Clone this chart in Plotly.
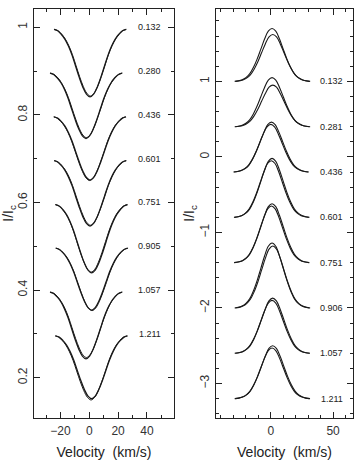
import plotly.graph_objects as go

# ---------------- data ----------------
# Left panel: absorption profiles (velocity grid and normalized line shape)
abs_velocity = [-25, -22.5, -20, -17.5, -15, -12.5, -10, -7.5, -5, -2.5, 0,
                2.5, 5, 7.5, 10, 12.5, 15, 17.5, 20, 22.5, 25]
abs_shape = [0.03, 0.05, 0.10, 0.17, 0.27, 0.40, 0.56, 0.72, 0.86, 0.96, 1.00,
             0.96, 0.86, 0.72, 0.56, 0.40, 0.27, 0.17, 0.10, 0.05, 0.03]
left_phases = ["0.132", "0.280", "0.436", "0.601", "0.751", "0.905", "1.057", "1.211"]
left_continuum = [1.0, 0.9, 0.8, 0.7, 0.6, 0.5, 0.4, 0.3]
left_depth_a = [0.159, 0.154, 0.149, 0.154, 0.161, 0.146, 0.157, 0.148]
left_depth_b = [0.157, 0.152, 0.150, 0.152, 0.159, 0.147, 0.154, 0.151]
left_center_a = [0.5, -2.3, 0.5, 0.5, 1.6, 1.6, -2.3, 1.6]
left_center_b = [0.8, -2.0, 0.2, 0.8, 1.3, 1.9, -2.0, 1.2]

# Right panel: emission profiles
em_velocity = [-30, -27, -24, -21, -18, -15, -12, -9, -6, -3, 0,
               3, 6, 9, 12, 15, 18, 21, 24, 27, 30]
em_shape = [0.00, 0.01, 0.03, 0.07, 0.14, 0.26, 0.42, 0.61, 0.80, 0.95, 1.00,
            0.95, 0.80, 0.61, 0.42, 0.26, 0.14, 0.07, 0.03, 0.01, 0.00]
right_phases = ["0.132", "0.281", "0.436", "0.601", "0.751", "0.906", "1.057", "1.211"]
right_continuum = [1.0, 0.4, -0.2, -0.8, -1.4, -2.0, -2.6, -3.2]
right_height_a = [0.70, 0.65, 0.66, 0.78, 0.78, 0.86, 0.73, 0.70]
right_height_b = [0.62, 0.55, 0.63, 0.75, 0.75, 0.82, 0.70, 0.67]
right_center_a = [1.0, 1.0, 0.5, 1.0, 1.0, 1.0, 1.5, 1.5]
right_center_b = [1.6, 1.6, 0.0, 0.4, 0.5, 1.6, 1.0, 1.0]

# ---------------- figure ----------------
fig = go.Figure()
LINE = "#1a1a1a"
FONT = "Liberation Sans, Arial, sans-serif"

for i in range(len(left_phases)):
    for depth, cen, w in ((left_depth_a[i], left_center_a[i], 1.3),
                          (left_depth_b[i], left_center_b[i], 1.0)):
        fig.add_trace(go.Scatter(
            x=[v + cen for v in abs_velocity],
            y=[left_continuum[i] - depth * s for s in abs_shape],
            mode="lines", line=dict(color=LINE, width=w, shape="spline"),
            xaxis="x", yaxis="y", hoverinfo="skip"))
    fig.add_annotation(x=42, y=left_continuum[i], xref="x", yref="y",
                       text=left_phases[i], showarrow=False,
                       font=dict(size=9, color="#222", family=FONT),
                       xanchor="center", yanchor="middle")

for i in range(len(right_phases)):
    for h, cen, w in ((right_height_a[i], right_center_a[i], 1.1),
                      (right_height_b[i], right_center_b[i], 1.1)):
        fig.add_trace(go.Scatter(
            x=[v + cen for v in em_velocity],
            y=[right_continuum[i] + h * s for s in em_shape],
            mode="lines", line=dict(color=LINE, width=w, shape="spline"),
            xaxis="x2", yaxis="y2", hoverinfo="skip"))
    fig.add_annotation(x=49, y=right_continuum[i], xref="x2", yref="y2",
                       text=right_phases[i], showarrow=False,
                       font=dict(size=9, color="#222", family=FONT),
                       xanchor="center", yanchor="middle")

axis_common = dict(showline=True, linecolor="#222", linewidth=1, mirror="allticks",
                   ticks="inside", ticklen=6, tickcolor="#222", tickwidth=1,
                   showgrid=False, zeroline=False,
                   tickfont=dict(size=12, color="#333", family=FONT))

ydom = [1 - 417.5 / 464, 1 - 9.3 / 464]
title_font = dict(size=14, color="#222", family=FONT)

fig.update_layout(
    width=354, height=464,
    margin=dict(l=0, r=0, t=0, b=0),
    paper_bgcolor="white", plot_bgcolor="white",
    showlegend=False,
    font=dict(family=FONT, color="#222"),
    xaxis=dict(domain=[34 / 354, 174 / 354], range=[-38.4, 58.8],
               tickvals=[-20, 0, 20, 40],
               ticktext=["\u221220", "0", "20", "40"],
               minor=dict(dtick=10, tick0=0, ticks="inside", ticklen=3, tickcolor="#222"),
               title=dict(text="Velocity  (km/s)", font=title_font, standoff=10),
               ticklabelstandoff=2,
               anchor="y", **axis_common),
    yaxis=dict(domain=ydom, range=[0.109, 1.041],
               tickvals=[0.2, 0.4, 0.6, 0.8, 1.0], ticktext=["0.2", "0.4", "0.6", "0.8", "1"],
               minor=dict(dtick=0.1, tick0=0, ticks="inside", ticklen=3, tickcolor="#222"),
               tickangle=-90, ticklabelstandoff=1,
               title=dict(text="I/I<sub>c</sub>", font=title_font, standoff=0),
               anchor="x", **axis_common),
    xaxis2=dict(domain=[216 / 354, 353 / 354], range=[-44, 66],
                tickvals=[0, 50], ticktext=["0", "50"],
                minor=dict(dtick=10, tick0=0, ticks="inside", ticklen=3, tickcolor="#222"),
                title=dict(text="Velocity  (km/s)", font=title_font, standoff=10),
                ticklabelstandoff=2,
                anchor="y2", **axis_common),
    yaxis2=dict(domain=ydom, range=[-3.45, 1.954],
                tickvals=[-3, -2, -1, 0, 1], ticktext=["\u22123", "\u22122", "\u22121", "0", "1"],
                minor=dict(dtick=0.2, tick0=0, ticks="inside", ticklen=3, tickcolor="#222"),
                tickangle=-90, ticklabelstandoff=1,
                title=dict(text="I/I<sub>c</sub>", font=title_font, standoff=0),
                anchor="x2", **axis_common),
)

fig.write_html("out.html")
